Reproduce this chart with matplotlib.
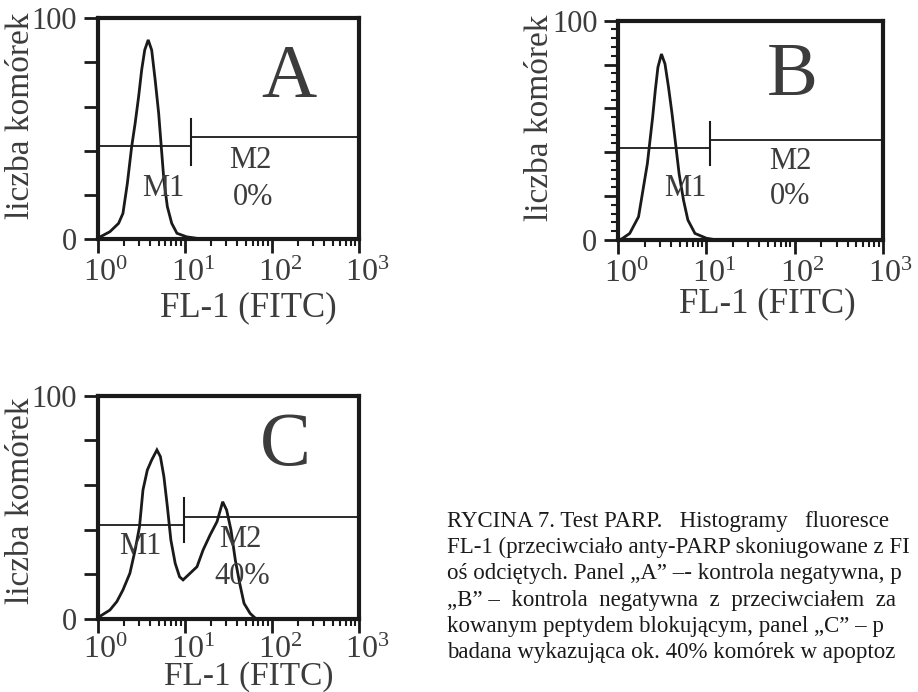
import numpy as np
import matplotlib
matplotlib.use("Agg")
import matplotlib.pyplot as plt
from matplotlib.ticker import FixedLocator, FixedFormatter, NullFormatter
from matplotlib.transforms import ScaledTranslation

plt.rcParams["font.family"] = ["Liberation Serif", "DejaVu Serif"]
plt.rcParams["mathtext.fontset"] = "custom"
plt.rcParams["mathtext.rm"] = "Liberation Serif"

# histogram outlines: log10(FL-1) and cell count (% of max scale)
a_log = [0.0, 0.03, 0.14, 0.24, 0.29, 0.34, 0.39, 0.43, 0.47, 0.505, 0.54, 0.58, 0.62, 0.66,
         0.70, 0.73, 0.76, 0.80, 0.85, 0.91, 1.02, 1.14, 1.2]
a_cnt = [0.5, 1.0, 3.3, 7.1, 11.6, 25, 41.8, 52.4, 64.5, 76.6, 85.6, 90.2, 85.6, 72,
         57, 41.8, 26.7, 14.6, 7.1, 2.6, 1.0, 0.3, 0]

b_log = [0.0, 0.04, 0.13, 0.23, 0.28, 0.33, 0.36, 0.39, 0.42, 0.45, 0.49, 0.53, 0.57, 0.61,
         0.65, 0.69, 0.74, 0.79, 0.87, 1.0, 1.12]
b_cnt = [0, 0.5, 3, 10.6, 22.7, 34.8, 45.4, 56, 68.2, 78.8, 84.8, 80.3, 69.7, 57.6,
         44, 30.3, 18.2, 9.1, 3, 0.8, 0]

c_log = [0.0, 0.03, 0.14, 0.22, 0.29, 0.37, 0.43, 0.48, 0.52, 0.57, 0.62, 0.68, 0.72, 0.76,
         0.80, 0.84, 0.89, 0.94, 0.98, 1.04, 1.14, 1.21, 1.29, 1.37, 1.435, 1.48, 1.53,
         1.58, 1.63, 1.68, 1.75, 1.82]
c_cnt = [0.5, 1.3, 4, 7.8, 13, 20.5, 30.9, 41.3, 57.8, 66.7, 71.2, 75.7, 72.7, 63.8,
         50.3, 35.4, 24.9, 18.9, 17.5, 19.7, 23.4, 30.9, 37.6, 43.6, 52.5, 48.8, 39.9,
         26.4, 16, 7, 2.5, 0]

# marker gates: M1 (start, end, level), M2 (start, end, level), divider bar (x, low, high)
m1 = {"A": (1, 11.8, 42), "B": (1, 11.0, 41.8), "C": (1, 9.9, 42)}
m2 = {"A": (11.8, 1000, 46), "B": (11.0, 1000, 45.6), "C": (9.9, 1000, 45.8)}
bars = {"A": (11.8, 33.6, 54.5), "B": (11.0, 34, 54), "C": (9.9, 34.6, 54)}
m2_pct = {"A": "0%", "B": "0%", "C": "40%"}

x_ticks = [1, 10, 100, 1000]
x_labels = [r"$\mathregular{10^{0}}$", r"$\mathregular{10^{1}}$",
            r"$\mathregular{10^{2}}$", r"$\mathregular{10^{3}}$"]
y_ticks = [0, 20, 40, 60, 80, 100]
y_labels = ["0", "", "", "", "", "100"]

caption = [
    "RYCINA 7. Test PARP.   Histogramy   fluoresce",
    "FL-1 (przeciwciało anty-PARP skoniugowane z FI",
    "oś odciętych. Panel „A” –- kontrola negatywna, p",
    "„B” –  kontrola  negatywna  z  przeciwciałem  za",
    "kowanym peptydem blokującym, panel „C” – p",
    "badana wykazująca ok. 40% komórek w apoptoz",
]

ink = "#1a1a1a"
grey = "#3c3c3c"

fig = plt.figure(figsize=(9.18, 6.92), dpi=100)

panels = {
    "A": dict(rect=[0.1064, 0.6546, 0.2847, 0.3190], log=a_log, cnt=a_cnt,
              letter=(157, 64.3), m1_txt=(5.6, 23), m2_txt=(56, 35.5), pct_txt=(60, 18.6),
              ylab=(-0.293, 0.557), xlab=(0.578, -0.313), minor_y=False),
    "B": dict(rect=[0.6735, 0.6532, 0.2880, 0.3169], log=b_log, cnt=b_cnt,
              letter=(95, 66.1), m1_txt=(5.7, 23.7), m2_txt=(89, 35.7), pct_txt=(89, 19.7),
              ylab=(-0.298, 0.556), xlab=(0.562, -0.29), minor_y=True),
    "C": dict(rect=[0.1064, 0.1055, 0.2847, 0.3227], log=c_log, cnt=c_cnt,
              letter=(141, 69), m1_txt=(3.06, 32.4), m2_txt=(43, 35.4), pct_txt=(45, 19),
              ylab=(-0.293, 0.528), xlab=(0.579, -0.256), minor_y=False),
}

for name, p in panels.items():
    ax = fig.add_axes(p["rect"])
    ax.set_xscale("log")
    ax.set_xlim(1, 1000)
    ax.set_ylim(0, 100)

    ax.plot(np.power(10.0, p["log"]), p["cnt"], color=ink, lw=2.0, solid_joinstyle="miter")

    x0, x1, lvl = m1[name]
    ax.plot([x0, x1], [lvl, lvl], color=ink, lw=1.3)
    x0, x1, lvl = m2[name]
    ax.plot([x0, x1], [lvl, lvl], color=ink, lw=1.3)
    bx, lo, hi = bars[name]
    ax.plot([bx, bx], [lo, hi], color=ink, lw=1.5)

    ax.text(*p["letter"], name, fontsize=55, color=grey, ha="center", va="baseline")
    ax.text(*p["m1_txt"], "M1", fontsize=22, color=grey, ha="center", va="center")
    ax.text(*p["m2_txt"], "M2", fontsize=22, color=grey, ha="center", va="center")
    ax.text(*p["pct_txt"], m2_pct[name], fontsize=22, color=grey, ha="center", va="center")

    for s in ax.spines.values():
        s.set_linewidth(3)
        s.set_color(ink)

    ax.xaxis.set_major_locator(FixedLocator(x_ticks))
    ax.xaxis.set_major_formatter(FixedFormatter(x_labels))
    ax.xaxis.set_minor_formatter(NullFormatter())
    ax.yaxis.set_major_locator(FixedLocator(y_ticks))
    ax.yaxis.set_major_formatter(FixedFormatter(y_labels))
    if p["minor_y"]:
        ax.yaxis.set_minor_locator(FixedLocator(list(range(0, 101, 4))))
    ax.tick_params(which="major", direction="out", length=10, width=2, color=ink,
                   labelcolor=grey)
    ax.tick_params(which="minor", direction="out", length=5, width=1.5, color=ink)
    ax.tick_params(axis="x", which="major", labelsize=23, pad=2 if name == "C" else 4)
    ax.tick_params(axis="y", which="major", labelsize=22, pad=5)
    for lab in ax.get_xticklabels():
        lab.set_transform(lab.get_transform() + ScaledTranslation(0.08, 0, fig.dpi_scale_trans))

    ax.set_ylabel("liczba komórek", fontsize=24, color=grey)
    ax.yaxis.label.set_va("center")
    ax.yaxis.set_label_coords(*p["ylab"])
    ax.set_xlabel("FL-1 (FITC)", fontsize=25 if name != "C" else 24, color=grey)
    ax.xaxis.label.set_va("center")
    ax.xaxis.set_label_coords(*p["xlab"])

# figure caption, running up to the right edge like the scan
base = 527
for i, line in enumerate(caption):
    fig.text(447 / 918, 1 - (base + i * 26.2) / 692, line, fontsize=16.5, color=ink,
             ha="left", va="baseline")

fig.savefig("out.png", dpi=100)
